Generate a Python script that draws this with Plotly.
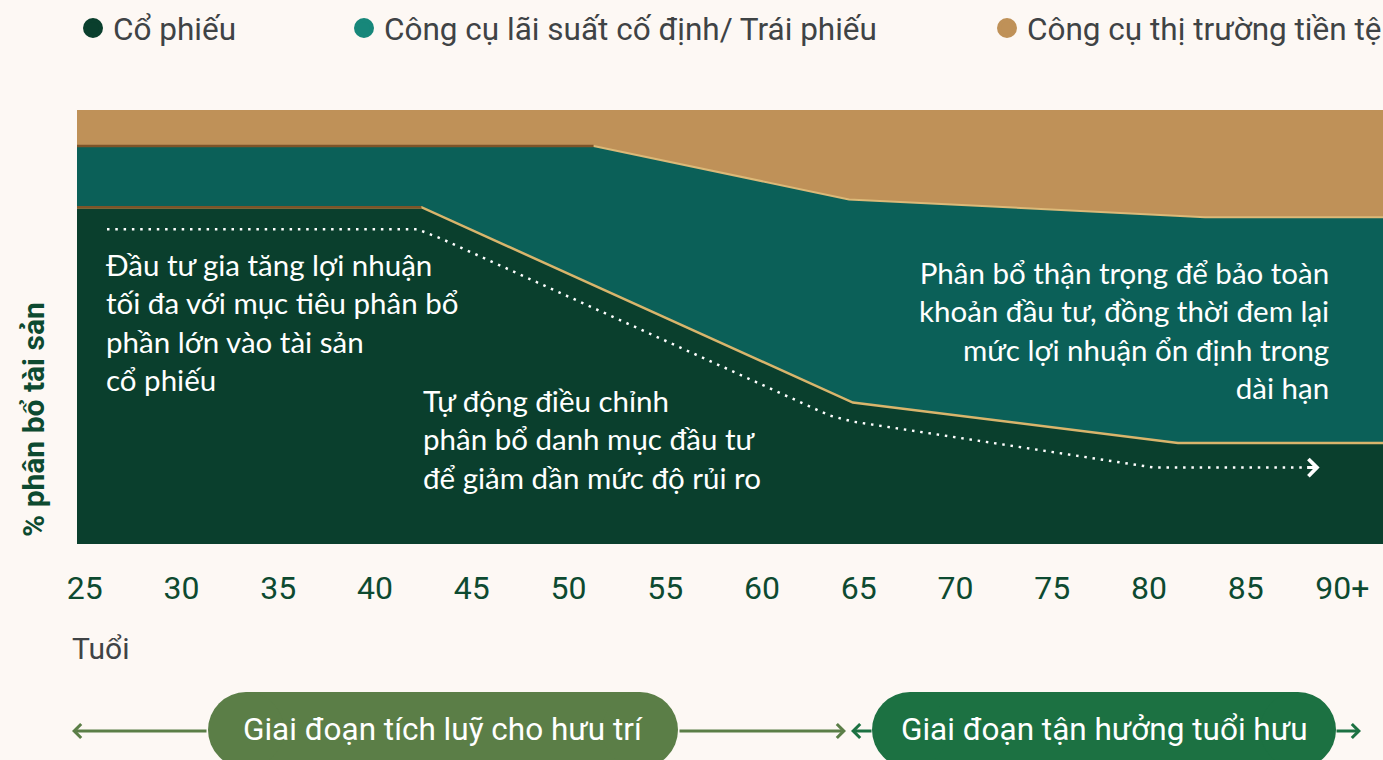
import plotly.graph_objects as go

# ---------------- data ----------------
# age axis positions of the boundary break points
stock_ages = [24.6, 42.4, 64.7, 81.5, 92.1]
stock_top = [77.6, 77.6, 32.6, 23.3, 23.3]          # % equities (cumulative top)

bond_ages = [24.6, 51.3, 64.5, 82.9, 92.1]
bond_top = [91.7, 91.7, 79.4, 75.3, 75.3]           # % equities + bonds (cumulative top)

money_ages = [24.6, 92.1]
money_top = [100, 100]                              # % total

guide_ages = [26.15, 42.2, 43.4, 63.5, 64.7, 80.3, 88.1]
guide_pct = [72.5, 72.5, 70.4, 29.6, 28.2, 17.6, 17.6]

tick_ages = [25, 30, 35, 40, 45, 50, 55, 60, 65, 70, 75, 80, 85, 90]
tick_labels = ["25", "30", "35", "40", "45", "50", "55", "60", "65", "70", "75", "80", "85", "90+"]

series_names = ["Cổ phiếu", "Công cụ lãi suất cố định/ Trái phiếu", "Công cụ thị trường tiền tệ"]
series_colors = ["#0a3f2d", "#0b6058", "#bf9158"]
legend_colors = ["#0a3f2d", "#17877a", "#bf9158"]

# ---------------- layout helpers ----------------
W, H = 1383, 760
L, R, T, B = 77, 1383, 110, 544
BG = "#fdf8f4"


def px_x(px):
    return (px - L) / (R - L)


def px_y(py):
    return (B - py) / (B - T)


fig = go.Figure()

# stacked areas
fig.add_trace(go.Scatter(x=stock_ages, y=stock_top, mode="lines", fill="tozeroy",
                         fillcolor=series_colors[0], line=dict(width=0, color=series_colors[0]),
                         showlegend=False, hoverinfo="skip"))
fig.add_trace(go.Scatter(x=bond_ages, y=bond_top, mode="lines", fill="tonexty",
                         fillcolor=series_colors[1], line=dict(width=0, color=series_colors[1]),
                         showlegend=False, hoverinfo="skip"))
fig.add_trace(go.Scatter(x=money_ages, y=money_top, mode="lines", fill="tonexty",
                         fillcolor=series_colors[2], line=dict(width=0, color=series_colors[2]),
                         showlegend=False, hoverinfo="skip"))

# boundary lines (gold, darker on the flat early part)
fig.add_trace(go.Scatter(x=stock_ages, y=stock_top, mode="lines",
                         line=dict(width=2.5, color="#d9b56c"), showlegend=False, hoverinfo="skip"))
fig.add_trace(go.Scatter(x=stock_ages[:2], y=stock_top[:2], mode="lines",
                         line=dict(width=2.5, color="#7d5428"), showlegend=False, hoverinfo="skip"))
fig.add_trace(go.Scatter(x=bond_ages, y=bond_top, mode="lines",
                         line=dict(width=2, color="#dcb978"), showlegend=False, hoverinfo="skip"))
fig.add_trace(go.Scatter(x=bond_ages[:2], y=bond_top[:2], mode="lines",
                         line=dict(width=2.5, color="#7d5428"), showlegend=False, hoverinfo="skip"))

# white dotted guide
fig.add_trace(go.Scatter(x=guide_ages, y=guide_pct, mode="lines",
                         line=dict(width=2.5, color="white", dash="2.5px,5.8px"),
                         showlegend=False, hoverinfo="skip"))

# legend-only entries (three separate legends)
legend_ids = ["legend", "legend2", "legend3"]
for name, col, lid in zip(series_names, legend_colors, legend_ids):
    fig.add_trace(go.Scatter(x=[None], y=[None], mode="markers", name=name,
                             marker=dict(size=16, color=col, line=dict(width=4, color=col)),
                             legend=lid, hoverinfo="skip"))

legend_font = dict(family="Roboto", size=31.5, color="#3f4345")
legend_common = dict(orientation="h", xref="container", yref="container", xanchor="left",
                     yanchor="middle", y=1 - 28 / H, font=legend_font,
                     bgcolor="rgba(0,0,0,0)", itemsizing="trace")
legend_px = [73, 344, 987]

text_font = dict(family="Lato", size=29.5, color="white")

annotations = [
    dict(text="Đầu tư gia tăng lợi nhuận<br>tối đa với mục tiêu phân bổ<br>phần lớn vào tài sản<br>cổ phiếu",
         x=px_x(104), y=px_y(321.5), xref="paper", yref="paper", xanchor="left", yanchor="middle",
         align="left", showarrow=False, font=text_font),
    dict(text="Tự động điều chỉnh<br>phân bổ danh mục đầu tư<br>để giảm dần mức độ rủi ro",
         x=px_x(421), y=px_y(438.5), xref="paper", yref="paper", xanchor="left", yanchor="middle",
         align="left", showarrow=False, font=text_font),
    dict(text="Phân bổ thận trọng để bảo toàn<br>khoản đầu tư, đồng thời đem lại<br>mức lợi nhuận ổn định trong<br>dài hạn",
         x=px_x(1331), y=px_y(330), xref="paper", yref="paper", xanchor="right", yanchor="middle",
         align="right", showarrow=False, font=text_font),
    # guide arrow head
    dict(text="", x=guide_ages[-1], y=guide_pct[-1], xref="x", yref="y", ax=-14, ay=0,
         showarrow=True, arrowhead=4, arrowsize=1.1, arrowwidth=3, arrowcolor="white",
         xshift=14),
    # y axis title
    dict(text="<b>% phân bổ tài sản</b>", x=px_x(33), y=px_y(420), xref="paper", yref="paper",
         textangle=-90, showarrow=False, xanchor="center", yanchor="middle",
         font=dict(family="Roboto", size=30, color="#0d4a30")),
    # x axis title
    dict(text="Tuổi", x=px_x(70), y=px_y(648), xref="paper", yref="paper", xanchor="left",
         yanchor="middle", showarrow=False, font=dict(family="Roboto", size=30, color="#3f4345")),
]

# bottom timeline
GREEN1 = "#5b7e47"
GREEN2 = "#1c7142"
yl = 731
annotations += [
    dict(text="", x=px_x(72), y=px_y(yl), xref="paper", yref="paper", ax=136, ay=0,
         showarrow=True, arrowhead=4, arrowsize=0.9, arrowwidth=3, arrowcolor=GREEN1),
    dict(text="", x=px_x(846), y=px_y(yl), xref="paper", yref="paper", ax=-168, ay=0,
         showarrow=True, arrowhead=4, arrowsize=0.9, arrowwidth=3, arrowcolor=GREEN1),
    dict(text="", x=px_x(851), y=px_y(yl), xref="paper", yref="paper", ax=22, ay=0,
         showarrow=True, arrowhead=4, arrowsize=0.9, arrowwidth=3, arrowcolor=GREEN2),
    dict(text="", x=px_x(1361), y=px_y(yl), xref="paper", yref="paper", ax=-26, ay=0,
         showarrow=True, arrowhead=4, arrowsize=0.9, arrowwidth=3, arrowcolor=GREEN2),
]

shapes = []


def pill(x0, x1, y0, y1, color):
    r = (y1 - y0) / 2
    shapes.append(dict(type="rect", xref="paper", yref="paper", x0=px_x(x0 + r), x1=px_x(x1 - r),
                       y0=px_y(y1), y1=px_y(y0), fillcolor=color, line=dict(width=0), layer="above"))
    for cx in (x0 + r, x1 - r):
        shapes.append(dict(type="circle", xref="paper", yref="paper", x0=px_x(cx - r), x1=px_x(cx + r),
                           y0=px_y(y1), y1=px_y(y0), fillcolor=color, line=dict(width=0), layer="above"))


pill(208, 678, 692, 768, GREEN1)
pill(872, 1336, 692, 768, GREEN2)

pill_font = dict(family="Roboto", size=31.5, color="white")
annotations += [
    dict(text="Giai đoạn tích luỹ cho hưu trí", x=px_x(443), y=px_y(729), xref="paper", yref="paper",
         xanchor="center", yanchor="middle", showarrow=False, font=pill_font),
    dict(text="Giai đoạn tận hưởng tuổi hưu", x=px_x(1104), y=px_y(729), xref="paper", yref="paper",
         xanchor="center", yanchor="middle", showarrow=False, font=pill_font),
]

fig.update_layout(
    width=W, height=H,
    margin=dict(l=L, r=W - R, t=T, b=H - B),
    paper_bgcolor=BG, plot_bgcolor=BG,
    annotations=annotations, shapes=shapes,
    legend=dict(x=legend_px[0] / W, **legend_common),
    legend2=dict(x=legend_px[1] / W, **legend_common),
    legend3=dict(x=legend_px[2] / W, **legend_common),
    xaxis=dict(range=[24.6, 92.1], tickvals=tick_ages, ticktext=tick_labels, showgrid=False,
               zeroline=False, showline=False, ticks="", ticklabelstandoff=22,
               tickfont=dict(family="Roboto", size=32, color="#0d4a30"), fixedrange=True),
    yaxis=dict(range=[0, 100], visible=False, fixedrange=True),
    hovermode=False,
)

fig.write_html("out.html", config={"displayModeBar": False},
               post_script="document.body.style.margin='0';document.body.style.background='%s';" % BG)
